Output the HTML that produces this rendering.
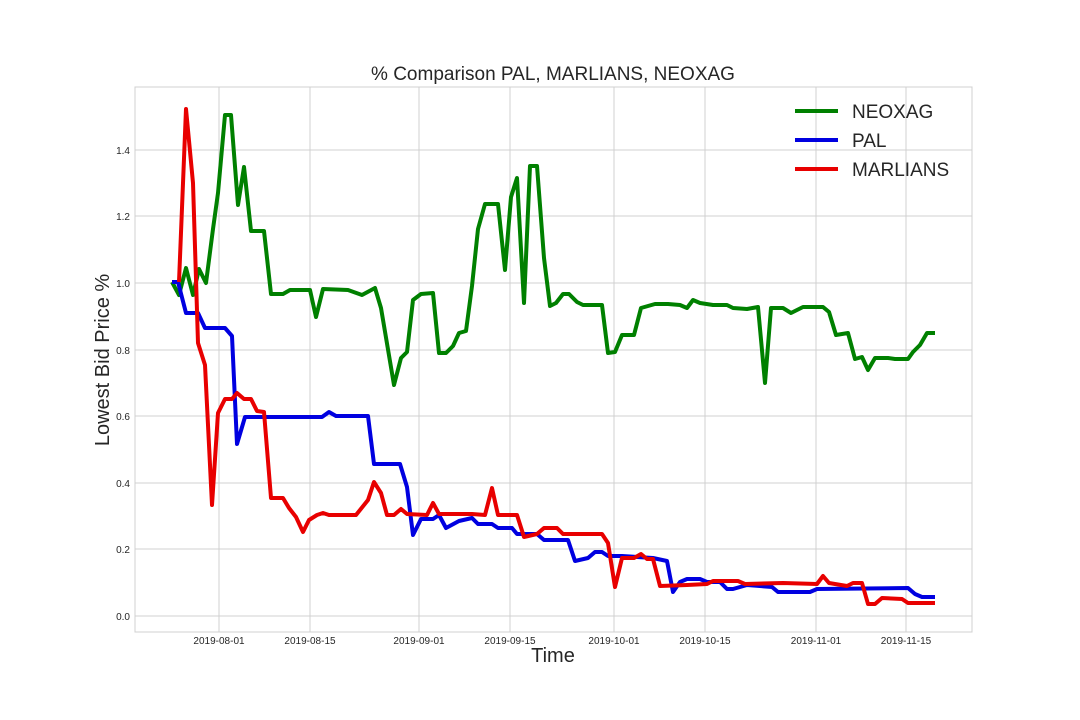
<!DOCTYPE html>
<html><head><meta charset="utf-8"><style>body{margin:0;background:#fff}svg{display:block}text{font-family:"Liberation Sans",sans-serif;fill:#262626}</style></head><body>
<svg width="1080" height="720" viewBox="0 0 1080 720" xmlns="http://www.w3.org/2000/svg">
<rect width="1080" height="720" fill="#fff"/>
<g stroke="#d0d0d0" stroke-width="1">
<line x1="219" y1="87" x2="219" y2="632"/><line x1="310" y1="87" x2="310" y2="632"/><line x1="419" y1="87" x2="419" y2="632"/><line x1="510" y1="87" x2="510" y2="632"/><line x1="614" y1="87" x2="614" y2="632"/><line x1="705" y1="87" x2="705" y2="632"/><line x1="816" y1="87" x2="816" y2="632"/><line x1="906" y1="87" x2="906" y2="632"/>
<line x1="135" y1="616" x2="972" y2="616"/><line x1="135" y1="549" x2="972" y2="549"/><line x1="135" y1="483" x2="972" y2="483"/><line x1="135" y1="416" x2="972" y2="416"/><line x1="135" y1="350" x2="972" y2="350"/><line x1="135" y1="283" x2="972" y2="283"/><line x1="135" y1="216" x2="972" y2="216"/><line x1="135" y1="150" x2="972" y2="150"/>
<rect x="135" y="87" width="837" height="545" fill="none"/>
</g>
<g font-size="10" text-anchor="end">
<text x="130" y="620">0.0</text><text x="130" y="553">0.2</text><text x="130" y="487">0.4</text><text x="130" y="420">0.6</text><text x="130" y="354">0.8</text><text x="130" y="287">1.0</text><text x="130" y="220">1.2</text><text x="130" y="154">1.4</text>
</g>
<g font-size="10" text-anchor="middle">
<text x="219" y="644">2019-08-01</text><text x="310" y="644">2019-08-15</text><text x="419" y="644">2019-09-01</text><text x="510" y="644">2019-09-15</text><text x="614" y="644">2019-10-01</text><text x="705" y="644">2019-10-15</text><text x="816" y="644">2019-11-01</text><text x="906" y="644">2019-11-15</text>
</g>
<text x="553" y="80" font-size="19" text-anchor="middle">% Comparison PAL, MARLIANS, NEOXAG</text>
<text x="553" y="662" font-size="20" text-anchor="middle">Time</text>
<text transform="translate(109,360) rotate(-90)" font-size="20" text-anchor="middle">Lowest Bid Price %</text>
<g fill="none" stroke-width="4" stroke-linejoin="round">
<polyline stroke="#008000" points="172,282 179,295 186,268 193,295 199,269 206,283 213,229 218,193 225,115 231,115 238,205 244,167 251,231 264,231 271,294 283,294 290,290 310,290 316,317 323,289 348,290 362,295 375,288 381,308 394,385 401,358 407,352 413,300 421,294 433,293 439,353 446,353 453,346 459,333 466,331 472,286 478,229 485,204 498,204 505,270 511,197 517,178 524,303 530,166 537,166 544,258 550,306 556,303 563,294 569,294 577,302 583,305 602,305 608,353 615,352 622,335 634,335 641,308 655,304 668,304 680,305 687,308 693,300 700,303 713,305 727,305 733,308 747,309 758,307 765,383 771,308 783,308 791,313 803,307 823,307 829,312 836,335 848,333 855,359 862,357 868,370 875,358 888,358 895,359 908,359 913,352 920,345 927,333 935,333"/>
<polyline stroke="#0000e0" points="172,282 178,282 186,313 198,313 205,328 225,328 232,336 237,444 245,417 322,417 329,412 336,416 368,416 374,464 400,464 407,487 413,535 421,519 433,519 439,515 446,528 459,521 472,518 478,524 492,524 498,528 512,528 517,534 537,534 544,540 568,540 575,561 588,558 595,552 602,552 608,556 622,556 653,558 667,561 673,592 680,582 687,579 700,579 707,582 720,582 727,589 733,589 747,585 772,587 778,592 810,592 817,589 908,588 915,594 922,597 935,597"/>
<polyline stroke="#e80000" points="179,282 186,109 193,183 198,343 205,365 212,505 218,413 225,399 232,399 237,393 244,399 251,399 257,411 264,412 271,498 283,498 289,508 296,517 303,532 309,520 317,515 323,513 329,515 356,515 368,500 374,482 381,493 387,515 394,515 401,509 407,514 427,515 433,503 439,514 472,514 485,515 492,488 498,515 517,515 524,537 537,534 544,528 557,528 563,534 602,534 608,543 615,587 622,558 634,558 641,554 647,559 653,559 660,586 687,585 707,584 713,581 738,581 745,584 783,583 817,584 823,576 829,583 847,586 853,583 862,583 868,604 875,604 882,598 902,599 908,603 935,603"/>
</g>
<g stroke-width="4">
<line x1="795" y1="111" x2="838" y2="111" stroke="#008000"/>
<line x1="795" y1="140" x2="838" y2="140" stroke="#0000e0"/>
<line x1="795" y1="169" x2="838" y2="169" stroke="#e80000"/>
</g>
<g font-size="19">
<text x="852" y="118">NEOXAG</text><text x="852" y="147">PAL</text><text x="852" y="176">MARLIANS</text>
</g>
</svg>
</body></html>
